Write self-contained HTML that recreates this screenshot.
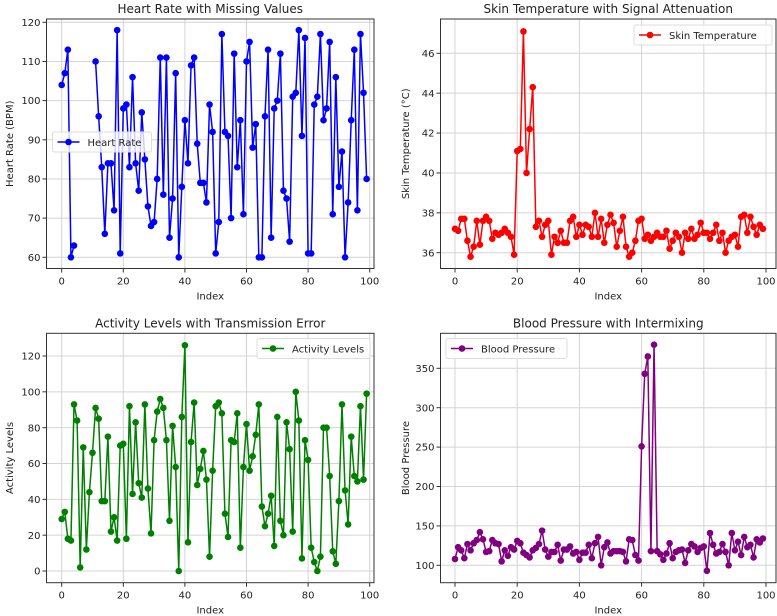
<!DOCTYPE html>
<html><head><meta charset="utf-8"><style>
html,body{margin:0;padding:0;background:#fff;}
svg{display:block;font-family:"DejaVu Sans","Liberation Sans",sans-serif;}
</style></head><body>
<svg id="fig" width="777" height="616" viewBox="0 0 777 616" xmlns="http://www.w3.org/2000/svg"></svg>
<script>
const indexTicks = [0, 20, 40, 60, 80, 100];
const heartRate = [104,107,113,60,63,null,null,null,null,null,null,110,96,83,66,84,84,72,118,61,98,99,83,106,84,77,97,85,73,68,69,80,111,76,111,65,75,107,60,78,95,84,109,111,89,79,79,74,99,92,61,69,117,92,91,70,112,83,95,71,110,115,88,94,60,60,96,113,65,98,100,112,77,75,64,101,102,118,91,116,61,61,99,101,117,95,98,115,71,106,78,87,60,74,95,113,72,117,102,80];
const heartTicks = [60,70,80,90,100,110,120];
const skinTemp = [37.2,37.1,37.7,37.7,36.6,35.8,36.3,37.6,36.4,37.6,37.8,37.6,36.7,37.0,36.9,37.0,37.2,37.0,36.8,35.9,41.1,41.2,47.1,40.0,42.2,44.3,37.3,37.6,36.8,37.4,37.6,35.9,36.8,36.5,37.1,36.5,36.5,37.6,37.8,36.8,37.4,36.9,37.4,37.3,36.8,38.0,36.8,37.7,36.5,37.4,37.9,37.5,36.3,37.1,37.8,36.3,35.8,36.0,36.6,37.6,37.7,36.7,36.9,36.6,36.8,37.0,36.8,36.8,37.1,36.2,36.6,37.0,36.8,36.0,37.0,36.7,37.2,36.7,36.9,37.5,37.0,37.0,36.7,37.0,37.4,36.6,37.0,36.0,36.6,36.8,36.9,36.3,37.8,37.9,37.0,37.8,37.3,36.9,37.4,37.2];
const skinTicks = [36,38,40,42,44,46];
const activity = [29,33,18,17,93,84,2,69,12,44,66,91,85,39,39,75,22,30,17,70,71,18,92,43,83,49,41,93,46,21,73,89,96,91,73,28,81,58,0,86,126,16,72,94,48,57,67,51,8,56,92,94,88,32,19,73,72,88,13,58,82,56,64,76,93,36,25,32,42,14,86,28,20,83,68,22,100,84,7,73,62,13,5,0,8,80,80,53,11,4,39,93,45,26,75,53,50,92,51,99];
const activityTicks = [0,20,40,60,80,100,120];
const bloodPressure = [108,123,119,109,127,119,128,132,142,133,117,118,132,128,127,105,119,112,123,120,131,128,116,113,110,119,122,127,144,120,111,117,117,126,106,120,120,124,115,117,107,116,116,126,109,128,136,100,123,129,115,118,118,118,117,105,133,132,113,106,251,343,365,118,380,118,114,107,115,128,109,117,119,120,103,119,127,124,117,122,124,93,141,126,115,117,127,117,100,141,119,130,113,136,123,126,110,133,129,134];
const bpTicks = [100,150,200,250,300,350];

const NS = 'http://www.w3.org/2000/svg';
const svg = document.getElementById('fig');
function mk(tag, attrs, parent) {
  const e = document.createElementNS(NS, tag);
  for (const k in attrs) e.setAttribute(k, attrs[k]);
  (parent || svg).appendChild(e);
  return e;
}

function drawPanel(p) {
  const g = mk('g', {});
  
  
  const xs = i => p.x0 + (p.x1 - p.x0) * i / 100;
  const ys = v => p.yb + (p.yt - p.yb) * (v - p.vmin) / (p.vmax - p.vmin);
  // grid
  indexTicks.forEach(t => {
    const l = mk('line', {x1: xs(t), x2: xs(t), y1: p.top, y2: p.bottom, stroke: '#d4d4d4', 'stroke-width': 1}, g);
    
    
  });
  p.ticks.forEach(t => {
    const l = mk('line', {x1: p.left, x2: p.right, y1: ys(t), y2: ys(t), stroke: '#d4d4d4', 'stroke-width': 1}, g);
    
    
  });
  // series line
  let d = '', pen = false;
  p.data.forEach((v, i) => {
    if (v === null) { pen = false; return; }
    d += (pen ? 'L' : 'M') + xs(i).toFixed(2) + ' ' + ys(v).toFixed(2);
    pen = true;
  });
  const path = mk('path', {d: d, fill: 'none', stroke: p.color, 'stroke-width': 1.5}, g);
  
  
  p.data.forEach((v, i) => {
    if (v === null) return;
    const c = mk('circle', {cx: xs(i), cy: ys(v), r: 3.3, fill: p.color}, g);
    
    
  });
  // spines
  const box = mk('rect', {x: p.left, y: p.top, width: p.right - p.left, height: p.bottom - p.top, fill: 'none', stroke: '#333', 'stroke-width': 1}, g);
  
  
  // x ticks
  indexTicks.forEach(t => {
    mk('line', {x1: xs(t), x2: xs(t), y1: p.bottom, y2: p.bottom + 4, stroke: '#333', 'stroke-width': 1}, g);
    const tx = mk('text', {x: xs(t), y: p.bottom + 16, 'font-size': 10, 'text-anchor': 'middle', fill: '#222'}, g);
    tx.textContent = t;
    
    
  });
  p.ticks.forEach(t => {
    mk('line', {x1: p.left - 4, x2: p.left, y1: ys(t), y2: ys(t), stroke: '#333', 'stroke-width': 1}, g);
    const tx = mk('text', {x: p.left - 6, y: ys(t) + 3.6, 'font-size': 10, 'text-anchor': 'end', fill: '#222'}, g);
    tx.textContent = t;
    
    
  });
  // titles / labels
  const cx = (p.left + p.right) / 2;
  const ti = mk('text', {x: cx, y: p.top - 6, 'font-size': 12, 'text-anchor': 'middle', fill: '#222'}, g);
  ti.textContent = p.title;
  
  
  const xl = mk('text', {x: cx, y: p.bottom + 31, 'font-size': 10, 'text-anchor': 'middle', fill: '#222'}, g);
  xl.textContent = 'Index';
  
  
  const cy = (p.top + p.bottom) / 2;
  const yl = mk('text', {x: p.ylx, y: cy, 'font-size': 10, 'text-anchor': 'middle', fill: '#222', transform: 'rotate(-90 ' + p.ylx + ' ' + cy + ')'}, g);
  yl.textContent = p.ylabel;
  
  
  // legend
  const lg = mk('g', {}, g);
  
  
  mk('rect', {x: p.lx, y: p.ly, width: p.lw, height: 20, rx: 2, fill: '#fff', 'fill-opacity': 0.8, stroke: '#ddd', 'stroke-width': 1}, lg);
  mk('line', {x1: p.lx + 5, x2: p.lx + 27, y1: p.ly + 10, y2: p.ly + 10, stroke: p.color, 'stroke-width': 1.5}, lg);
  mk('circle', {cx: p.lx + 16, cy: p.ly + 10, r: 3.3, fill: p.color}, lg);
  const lt = mk('text', {x: p.lx + 35, y: p.ly + 14, 'font-size': 10, fill: '#222'}, lg);
  lt.textContent = p.legend;
  
  
}

drawPanel({name: 'heart-rate', data: heartRate, ticks: heartTicks, color: '#0000ff', vmin: 60, vmax: 120, yb: 257.3, yt: 22.3,
  x0: 61.7, x1: 369.7, left: 46.5, right: 374, top: 19, bottom: 268.5, title: 'Heart Rate with Missing Values',
  ylabel: 'Heart Rate (BPM)', ylx: 13, legend: 'Heart Rate', lx: 52.5, ly: 132, lw: 99});
drawPanel({name: 'skin-temperature', data: skinTemp, ticks: skinTicks, color: '#ff0000', vmin: 36, vmax: 46, yb: 252.7, yt: 53.3,
  x0: 455, x1: 766, left: 440.5, right: 776, top: 19, bottom: 268.5, title: 'Skin Temperature with Signal Attenuation',
  ylabel: 'Skin Temperature (°C)', ylx: 409, legend: 'Skin Temperature', lx: 634, ly: 25, lw: 138});
drawPanel({name: 'activity-levels', data: activity, ticks: activityTicks, color: '#008000', vmin: 0, vmax: 120, yb: 571, yt: 356,
  x0: 61.7, x1: 369.7, left: 46.5, right: 374, top: 333.3, bottom: 582.7, title: 'Activity Levels with Transmission Error',
  ylabel: 'Activity Levels', ylx: 13, legend: 'Activity Levels', lx: 257, ly: 338.5, lw: 113});
drawPanel({name: 'blood-pressure', data: bloodPressure, ticks: bpTicks, color: '#800080', vmin: 100, vmax: 350, yb: 565.3, yt: 368.3,
  x0: 455, x1: 766, left: 440.5, right: 776, top: 333.3, bottom: 582.7, title: 'Blood Pressure with Intermixing',
  ylabel: 'Blood Pressure', ylx: 409, legend: 'Blood Pressure', lx: 446, ly: 338.5, lw: 121});
</script>
</body></html>
